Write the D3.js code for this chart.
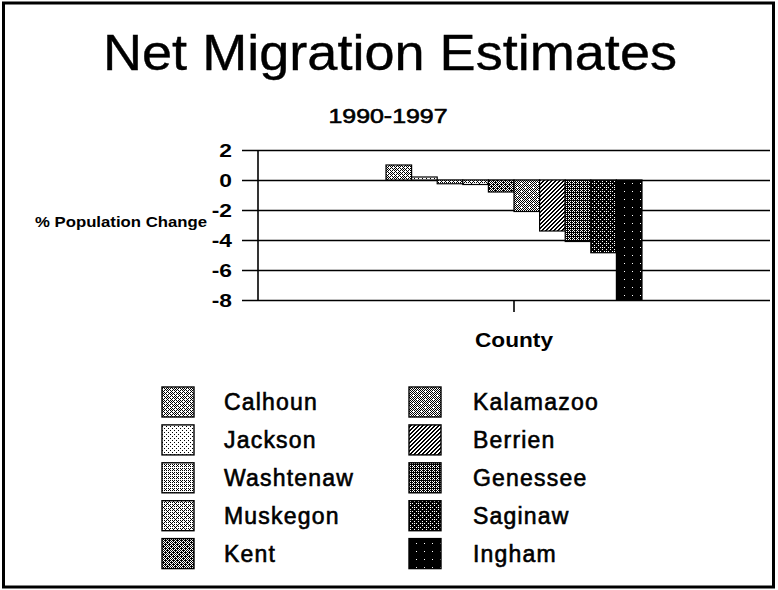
<!DOCTYPE html>
<html>
<head>
<meta charset="utf-8">
<script src="https://cdn.jsdelivr.net/npm/d3@7"></script>
<style>
  html, body { margin: 0; padding: 0; background: #fff; }
  svg { display: block; }
  text { font-family: "Liberation Sans", Arial, Helvetica, sans-serif; fill: #000; }
</style>
</head>
<body>
<svg id="chart" width="778" height="590"></svg>
<script>
// Net migration, % population change 1990-1997, by county
const categories = ["County"];
const counties = ["Calhoun", "Jackson", "Washtenaw", "Muskegon", "Kent",
                  "Kalamazoo", "Berrien", "Genessee", "Saginaw", "Ingham"];
const changes = [1.0, 0.2, -0.25, -0.3, -0.8, -2.1, -3.4, -4.1, -4.85, -8.0];
const yTicks = [2, 0, -2, -4, -6, -8];

// Ink coverage (out of 64) of each county's dot screen; Berrien is hatched
const inkLevels = [26, 8, 20, 22, 38, 30, null, 44, 54, 63];

// 8x8 ordered-dither threshold matrix used to build the dot screens
const bayer = [
  [ 0, 32,  8, 40,  2, 34, 10, 42],
  [48, 16, 56, 24, 50, 18, 58, 26],
  [12, 44,  4, 36, 14, 46,  6, 38],
  [60, 28, 52, 20, 62, 30, 54, 22],
  [ 3, 35, 11, 43,  1, 33,  9, 41],
  [51, 19, 59, 27, 49, 17, 57, 25],
  [15, 47,  7, 39, 13, 45,  5, 37],
  [63, 31, 55, 23, 61, 29, 53, 21]
];
// Diagonal hatch for Berrien
const hatch = ["10011001", "00110011", "01100110", "11001100",
               "10011001", "00110011", "01100110", "11001100"];

const svg = d3.select("#chart");
const defs = svg.append("defs");

counties.forEach((c, i) => {
  const p = defs.append("pattern")
    .attr("id", "tex" + i)
    .attr("patternUnits", "userSpaceOnUse")
    .attr("width", 8).attr("height", 8);
  p.append("rect").attr("width", 8).attr("height", 8).attr("fill", "#fff");
  let d = "";
  for (let yy = 0; yy < 8; yy++) {
    for (let xx = 0; xx < 8; xx++) {
      const on = inkLevels[i] === null ? hatch[yy][xx] === "1" : bayer[yy][xx] < inkLevels[i];
      if (on) d += `M${xx},${yy}h1v1h-1z`;
    }
  }
  p.append("path").attr("d", d).attr("fill", "#000").attr("shape-rendering", "crispEdges");
});

// Outer frame
svg.append("rect")
  .attr("x", 3.5).attr("y", 3).attr("width", 770).attr("height", 584)
  .attr("fill", "none").attr("stroke", "#000").attr("stroke-width", 3);

// Titles
svg.append("text")
  .attr("x", 390).attr("y", 70)
  .attr("text-anchor", "middle")
  .attr("font-size", 50)
  .attr("stroke", "#000").attr("stroke-width", 0.4)
  .attr("textLength", 574).attr("lengthAdjust", "spacingAndGlyphs")
  .text("Net Migration Estimates");

svg.append("text")
  .attr("x", 388).attr("y", 123)
  .attr("text-anchor", "middle")
  .attr("font-size", 20)
  .attr("stroke", "#000").attr("stroke-width", 0.6)
  .attr("textLength", 119).attr("lengthAdjust", "spacingAndGlyphs")
  .text("1990-1997");

// Plot area
const plot = { left: 258, right: 770, top: 150, bottom: 300 };

const y = d3.scaleLinear().domain([-8, 2]).range([plot.bottom, plot.top]);

const x0 = d3.scaleBand()
  .domain(categories)
  .range([plot.left, plot.right])
  .paddingInner(0).paddingOuter(0.5);

const x1 = d3.scaleBand()
  .domain(counties)
  .range([0, x0.bandwidth()])
  .padding(0);

// Gridlines, extended past the value axis as outside tick marks
const gAxis = svg.append("g")
  .attr("transform", `translate(${plot.right},0)`)
  .call(d3.axisRight(y).tickValues(yTicks).tickSize(-(plot.right - plot.left) - 16).tickFormat(""));
gAxis.select(".domain").remove();
gAxis.selectAll(".tick line").attr("stroke", "#000").attr("stroke-width", 1.6);

// Tick labels
svg.append("g").selectAll("text")
  .data(yTicks)
  .join("text")
  .attr("transform", d => `translate(232,${y(d)}) scale(1.2,1)`)
  .attr("dy", "0.36em")
  .attr("text-anchor", "end")
  .attr("font-size", 19).attr("font-weight", "bold")
  .text(d => d3.format("d")(d).replace("−", "-"));

// Value axis line
svg.append("line")
  .attr("x1", plot.left).attr("x2", plot.left)
  .attr("y1", y(2)).attr("y2", y(-8))
  .attr("stroke", "#000").attr("stroke-width", 1.6);

// Category axis tick
svg.append("line")
  .attr("x1", x0("County") + x0.bandwidth() / 2)
  .attr("x2", x0("County") + x0.bandwidth() / 2)
  .attr("y1", y(-8)).attr("y2", y(-8) + 12)
  .attr("stroke", "#000").attr("stroke-width", 1.6);

// Bars
svg.append("g")
  .selectAll("rect")
  .data(counties.map((c, i) => ({ county: c, value: changes[i], i })))
  .join("rect")
  .attr("x", d => x0("County") + x1(d.county))
  .attr("y", d => y(Math.max(0, d.value)))
  .attr("width", x1.bandwidth())
  .attr("height", d => Math.abs(y(d.value) - y(0)))
  .attr("fill", d => `url(#tex${d.i})`)
  .attr("stroke", "#000").attr("stroke-width", 1.2);

// Axis titles
svg.append("text")
  .attr("x", 35).attr("y", 227)
  .attr("font-size", 14).attr("font-weight", "bold")
  .attr("textLength", 172).attr("lengthAdjust", "spacingAndGlyphs")
  .text("% Population Change");

svg.append("text")
  .attr("x", x0("County") + x0.bandwidth() / 2).attr("y", 347)
  .attr("text-anchor", "middle")
  .attr("font-size", 21).attr("font-weight", "bold")
  .attr("textLength", 78).attr("lengthAdjust", "spacingAndGlyphs")
  .text(categories[0]);

// Legend: two columns of five
const legend = svg.append("g");
const colX = [162, 409];
const textX = [224, 473];
const rowY0 = 387, rowStep = 37.9;

const items = legend.selectAll("g")
  .data(counties.map((c, i) => ({ county: c, i, col: Math.floor(i / 5), row: i % 5 })))
  .join("g");

items.append("rect")
  .attr("x", d => colX[d.col])
  .attr("y", d => rowY0 + d.row * rowStep)
  .attr("width", 32).attr("height", 30)
  .attr("fill", d => `url(#tex${d.i})`)
  .attr("stroke", "#000").attr("stroke-width", 1.4);

items.append("text")
  .attr("x", d => textX[d.col])
  .attr("y", d => rowY0 + d.row * rowStep + 23)
  .attr("font-size", 23)
  .attr("letter-spacing", 1.2)
  .attr("stroke", "#000").attr("stroke-width", 0.6)
  .text(d => d.county);
</script>
</body>
</html>
